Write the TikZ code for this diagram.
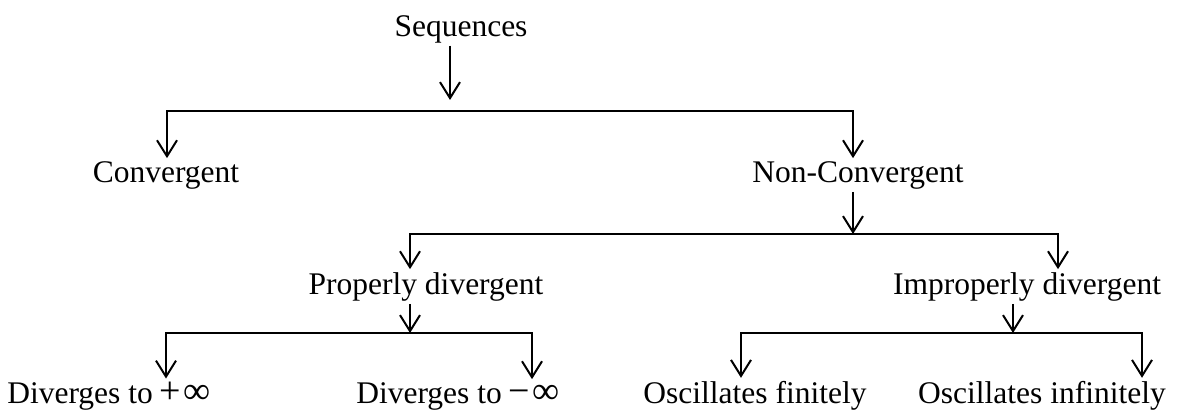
\documentclass[tikz,border=0pt]{standalone}
\usepackage{fontspec}
\setmainfont{Liberation Serif}
\usetikzlibrary{
  arrows.meta,
  positioning
}
\newcommand{\infsign}[1]{\hspace{0.2em}{\fontsize{19}{18}\selectfont #1\hspace{0.08em}∞}}
\tikzset{
  seqtext/.style={font=\fontsize{15.75}{18}\selectfont, inner sep=0pt, outer sep=1pt, anchor=base},
  branch/.style={line width=1pt,
    {Straight Barb[length=8pt,width=10pt]}-{Straight Barb[length=8pt,width=10pt]},
    shorten <=1pt, shorten >=1pt},
  feed/.style={line width=1pt, -{Straight Barb[length=8pt,width=10pt]}}
}

\begin{document}
\begin{tikzpicture}[x=0.5pt, y=-0.5pt]
  \useasboundingbox (0,0) rectangle (1178,410);
  % junction points on the bars
  \coordinate (s1) at (450,100);
  \coordinate (L1a) at (167,111);
  \coordinate (L1b) at (853,111);
  \coordinate (L2a) at (410,234);
  \coordinate (L2m) at (853,234);
  \coordinate (L2b) at (1058,234);
  \coordinate (L3a) at (166,333);
  \coordinate (L3m) at (410,333);
  \coordinate (L3b) at (532,333);
  \coordinate (L4a) at (741,333);
  \coordinate (L4m) at (1013,333);
  \coordinate (L4b) at (1142,333);

  \node[seqtext] (seq) at (461,37) {Sequences};
  \node[seqtext] (conv) at (166,183) {Convergent};
  \node[seqtext] (nc) at (858,183) {Non-Convergent};
  \node[seqtext] (pd) at (426,295) {Properly divergent};
  \node[seqtext] (id) at (1027,295) {Improperly divergent};
  \node[seqtext] (dplus) at (109,404) {Diverges to\infsign{+}};
  \node[seqtext] (dminus) at (458,404) {Diverges to\infsign{−}};
  \node[seqtext] (ofin) at (755,404) {Oscillates finitely};
  \node[seqtext] (oinf) at (1042,404) {Oscillates infinitely};

  \draw[feed] (seq.south -| s1) -- (s1);
  \draw[branch] (L1a |- conv.north) -- (L1a) -- (L1b) -- (L1b |- nc.north);
  \draw[feed] (nc.south -| L2m) -- (L2m);
  \draw[branch] (L2a |- pd.north) -- (L2a) -- (L2b) -- (L2b |- id.north);
  \draw[feed] (pd.south -| L3m) -- (L3m);
  \draw[branch] (L3a |- dplus.north) -- (L3a) -- (L3b) -- (L3b |- dminus.north);
  \draw[feed] (id.south -| L4m) -- (L4m);
  \draw[branch] (L4a |- ofin.north) -- (L4a) -- (L4b) -- (L4b |- oinf.north);
\end{tikzpicture}
\end{document}
